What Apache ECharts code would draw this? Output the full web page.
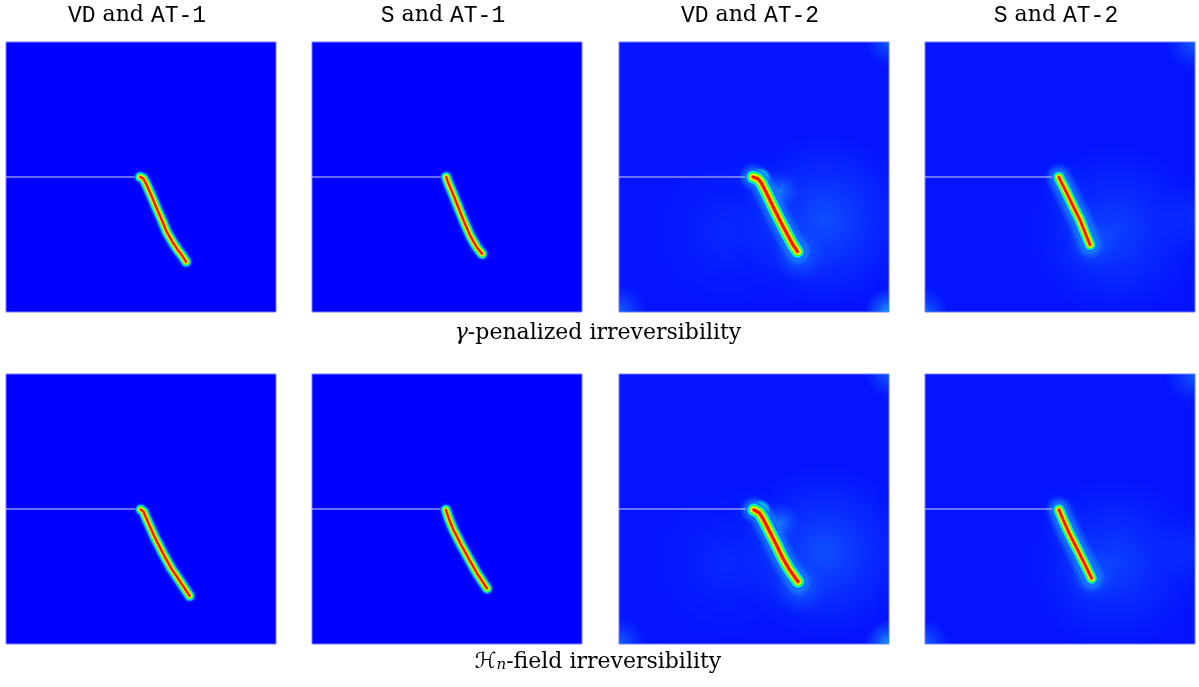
<!DOCTYPE html>
<html>
<head>
<meta charset="utf-8">
<script src="https://cdn.jsdelivr.net/npm/echarts@6/dist/echarts.min.js"></script>
<style>
  html, body { margin: 0; padding: 0; background: #ffffff; }
  #chart { width: 1199px; height: 687px; }
</style>
</head>
<body>
<div id="chart"></div>
<script>
// ---- column headers: discretisation and phase-field model ----
const columnScheme = ['VD', 'S', 'VD', 'S'];
const columnModel = ['AT-1', 'AT-1', 'AT-2', 'AT-2'];

// ---- initial notch (unit square specimen, y upwards) ----
const notch = [[0, 0.5], [0.497, 0.5]];

// ---- crack paths (phase-field ridge, d = 1) ----
// row 1: gamma-penalized irreversibility
const crackGammaVD1 = [[0.497, 0.500], [0.508, 0.495], [0.521, 0.470], [0.540, 0.427], [0.558, 0.384],
  [0.577, 0.341], [0.595, 0.297], [0.620, 0.254], [0.638, 0.227], [0.651, 0.211], [0.667, 0.186]];
const crackGammaS1 = [[0.497, 0.500], [0.503, 0.482], [0.520, 0.442], [0.540, 0.392], [0.563, 0.335],
  [0.587, 0.280], [0.610, 0.240], [0.630, 0.215]];
const crackGammaVD2 = [[0.496, 0.500], [0.515, 0.493], [0.527, 0.478], [0.546, 0.441], [0.570, 0.391],
  [0.595, 0.341], [0.620, 0.293], [0.644, 0.249], [0.661, 0.224]];
const crackGammaS2 = [[0.496, 0.499], [0.506, 0.478], [0.525, 0.441], [0.549, 0.391], [0.574, 0.341],
  [0.593, 0.293], [0.611, 0.249]];
// row 2: H_n-field irreversibility
const crackHistVD1 = [[0.499, 0.498], [0.509, 0.490], [0.525, 0.453], [0.550, 0.397], [0.581, 0.336],
  [0.612, 0.280], [0.649, 0.225], [0.680, 0.178]];
const crackHistS1 = [[0.496, 0.497], [0.506, 0.466], [0.524, 0.422], [0.549, 0.373], [0.580, 0.317],
  [0.611, 0.262], [0.648, 0.206]];
const crackHistVD2 = [[0.499, 0.497], [0.519, 0.486], [0.533, 0.465], [0.558, 0.416], [0.583, 0.367],
  [0.607, 0.317], [0.632, 0.274], [0.663, 0.231]];
const crackHistS2 = [[0.496, 0.497], [0.512, 0.459], [0.537, 0.404], [0.562, 0.355], [0.593, 0.293],
  [0.617, 0.243]];

const cracks = [
  [crackGammaVD1, crackGammaS1, crackGammaVD2, crackGammaS2],
  [crackHistVD1, crackHistS1, crackHistVD2, crackHistS2]
];

// diffuse damage of the AT-2 model: [x, y, spread, strength]
const diffuseVD = [[0.76, 0.34, 0.32, 0.42], [0.60, 0.45, 0.07, 0.6], [0.67, 0.21, 0.10, 0.45],
  [0.0, 0.0, 0.10, 0.55], [1.0, 0.0, 0.09, 0.95], [1.0, 1.0, 0.09, 0.5], [0.40, 0.30, 0.28, 0.14]];
const diffuseS = [[0.70, 0.30, 0.32, 0.32], [0.62, 0.25, 0.10, 0.3],
  [0.0, 0.0, 0.09, 0.55], [1.0, 1.0, 0.11, 0.5], [1.0, 0.35, 0.15, 0.15]];
const diffuse = [null, null, diffuseVD, diffuseS];

// widened head of the AT-2 crack at the notch tip (VD only)
const tipBulb = [[0.522, 0.494]];

// ---- layout ----
const panelLeft = [6, 312, 619, 925];
const panelTop = [42, 374];
const panelSize = 270;

// jet-like cross-section of the damage band, outer to inner
const bands = [
  { w: 10.8, c: '#1460ff' },
  { w: 9.6, c: '#00a0ff' },
  { w: 8.6, c: '#00e6ff' },
  { w: 7.6, c: '#00ffa0' },
  { w: 6.4, c: '#40ff20' },
  { w: 5.2, c: '#b4ff00' },
  { w: 4.2, c: '#ffff00' },
  { w: 3.2, c: '#ffa000' },
  { w: 2.0, c: '#ff1000' }
];

function glowFill(alpha) {
  return new echarts.graphic.RadialGradient(0.5, 0.5, 0.5, [
    { offset: 0, color: 'rgba(30,160,255,' + alpha + ')' },
    { offset: 0.5, color: 'rgba(30,150,255,' + (alpha * 0.45) + ')' },
    { offset: 1, color: 'rgba(30,140,255,0)' }
  ]);
}

// soft halo around the AT-2 crack band, wide/faint to narrow/brighter
const halo = [
  { w: 26, a: 0.16, blur: 16 },
  { w: 20, a: 0.22, blur: 10 },
  { w: 15, a: 0.35, blur: 6 }
];

const grids = [], xAxes = [], yAxes = [], series = [];
let gi = 0;
for (let r = 0; r < 2; r++) {
  for (let c = 0; c < 4; c++) {
    const at2 = columnModel[c] === 'AT-2';
    grids.push({
      left: panelLeft[c], top: panelTop[r], width: panelSize, height: panelSize,
      show: true, backgroundColor: at2 ? '#0414ff' : '#0000ff',
      borderColor: '#7a7aff', borderWidth: 1
    });
    xAxes.push({ gridIndex: gi, type: 'value', min: 0, max: 1, show: false });
    yAxes.push({ gridIndex: gi, type: 'value', min: 0, max: 1, show: false });

    const base = { xAxisIndex: gi, yAxisIndex: gi, silent: true, animation: false };
    const path = cracks[r][c];

    if (at2) {
      series.push(Object.assign({}, base, {
        type: 'custom', z: 1, clip: true,
        data: diffuse[c],
        renderItem: function (params, api) {
          const p = api.coord([api.value(0), api.value(1)]);
          const rad = api.value(2) * panelSize;
          return {
            type: 'circle',
            shape: { cx: p[0], cy: p[1], r: rad },
            style: { fill: glowFill(api.value(3)) }
          };
        }
      }));
      halo.forEach(h => {
        series.push(Object.assign({}, base, {
          type: 'line', z: 2, data: path, showSymbol: false,
          lineStyle: { width: h.w, color: 'rgba(40,170,255,' + h.a + ')', cap: 'round', join: 'round',
            shadowBlur: h.blur, shadowColor: 'rgba(40,170,255,0.6)' }
        }));
      });
    }

    series.push(Object.assign({}, base, {
      type: 'line', z: 3, data: notch, showSymbol: false,
      lineStyle: { width: 1, color: '#d4d4ff' }
    }));

    const k = at2 ? (c === 2 ? 1.4 : 1.2) : 1;
    bands.forEach((b, i) => {
      series.push(Object.assign({}, base, {
        type: 'line', z: 4 + i, data: path, showSymbol: false,
        lineStyle: { width: b.w * k, color: b.c, cap: 'round', join: 'round',
          shadowBlur: i === 0 ? 3 : 0, shadowColor: '#1460ff' }
      }));
    });

    if (at2 && c === 2) {
      series.push(Object.assign({}, base, {
        type: 'scatter', z: 3, data: tipBulb, symbolSize: 22,
        itemStyle: {
          color: new echarts.graphic.RadialGradient(0.5, 0.5, 0.5, [
            { offset: 0, color: '#40ff40' },
            { offset: 0.55, color: '#00ffb0' },
            { offset: 0.8, color: '#00b0ff' },
            { offset: 1, color: 'rgba(0,120,255,0)' }
          ])
        }
      }));
    }
    gi++;
  }
}

// ---- texts ----
const tt = { fontFamily: 'Liberation Mono', fontSize: 23, color: '#000' };
const rm = { fontFamily: 'DejaVu Serif', fontSize: 22, color: '#000' };
const graphics = [];
for (let c = 0; c < 4; c++) {
  graphics.push({
    type: 'text', x: panelLeft[c] + panelSize / 2 - 4, y: 4,
    style: {
      text: '{tt|' + columnScheme[c] + '}{rm| and }{tt|' + columnModel[c] + '}',
      rich: { tt: tt, rm: rm }, fill: '#000', textAlign: 'center'
    }
  });
}
const captions = [
  '{it|γ}{rm|-penalized irreversibility}',
  '{cal|ℋ}{sub|n}{rm|-field irreversibility}'
];
[322, 651].forEach((y, r) => {
  graphics.push({
    type: 'text', x: 598, y: y,
    style: {
      text: captions[r],
      textAlign: 'center',
      fill: '#000',
      rich: {
        rm: rm,
        it: { fontFamily: 'DejaVu Serif', fontStyle: 'italic', fontSize: 22, color: '#000' },
        cal: { fontFamily: 'DejaVu Sans', fontSize: 22, color: '#000' },
        sub: { fontFamily: 'DejaVu Serif', fontStyle: 'italic', fontSize: 15, color: '#000',
          verticalAlign: 'bottom', lineHeight: 15 }
      }
    }
  });
});

const chart = echarts.init(document.getElementById('chart'), null, { renderer: 'canvas' });
chart.setOption({
  animation: false,
  grid: grids,
  xAxis: xAxes,
  yAxis: yAxes,
  series: series,
  graphic: graphics
});
</script>
</body>
</html>
